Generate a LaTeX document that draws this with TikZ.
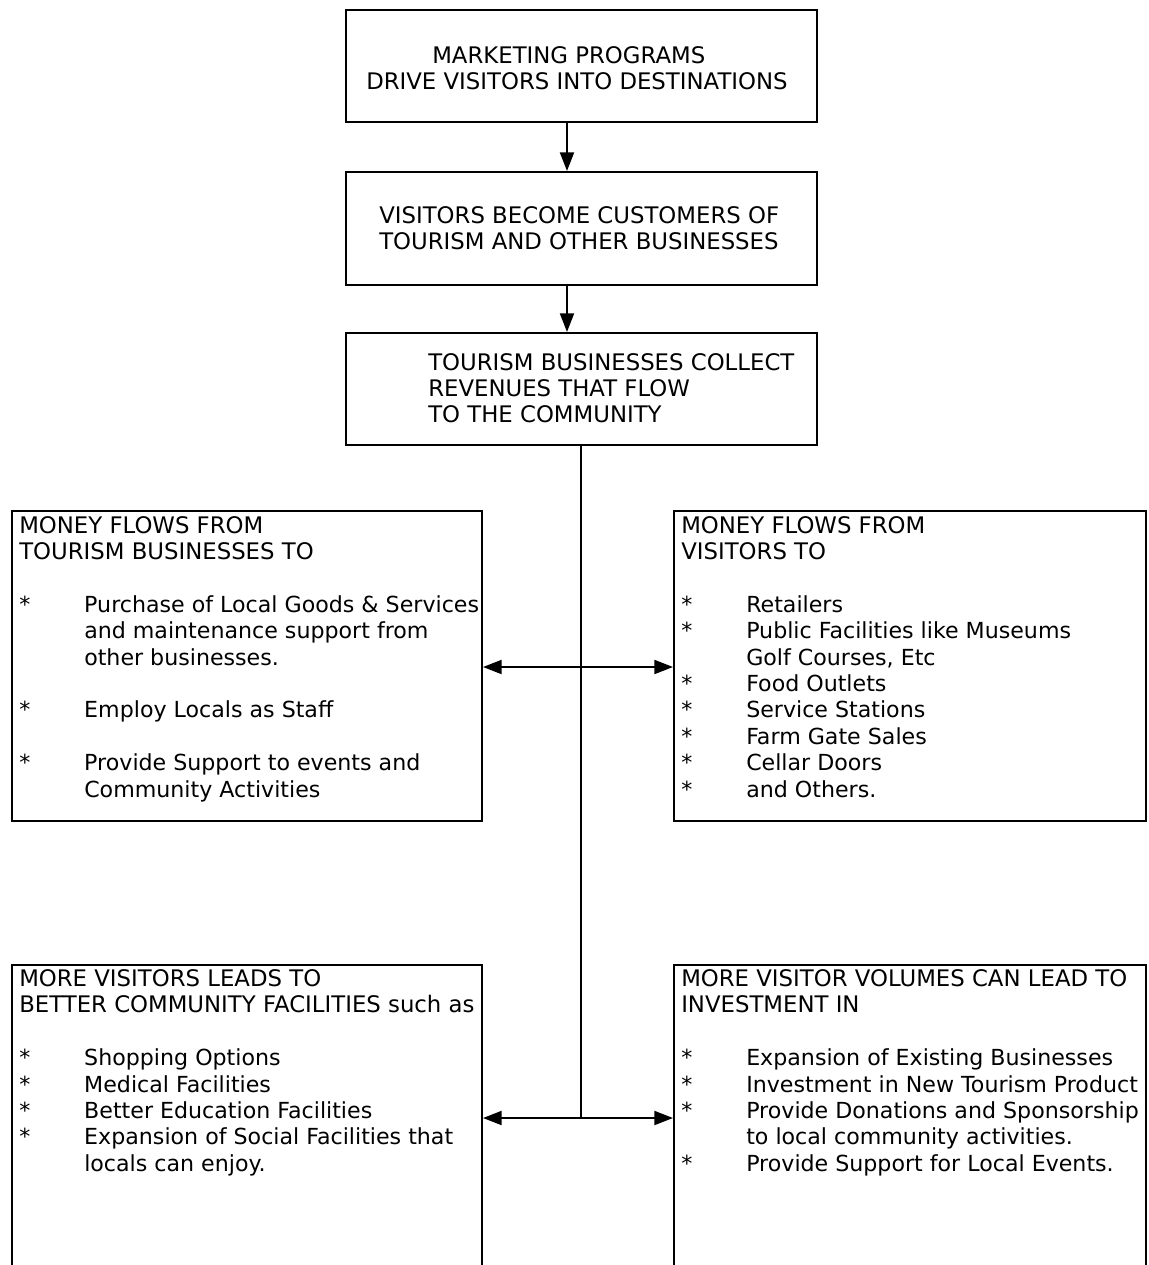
\documentclass[tikz,border=0pt]{standalone}
\usepackage{fontspec}
\setmainfont{DejaVu Sans}
\usetikzlibrary{arrows.meta}
\newcommand\hdfont{\fontsize{17.1}{19.8}\selectfont}
\newcommand\hd[1]{\multicolumn{2}{@{}l@{}}{\hdfont #1}}
\begin{document}
\begin{tikzpicture}[x=0.75pt,y=-0.75pt,
  box/.style={draw,line width=1.5pt,inner sep=0pt,minimum width=#1},
  txt/.style={inner sep=0pt,anchor=base west,font=\fontsize{16.6}{19.8}\selectfont},
  htxt/.style={inner sep=0pt,anchor=base west,font=\hdfont},
  arr/.style={line width=1.5pt,-{Triangle[length=14pt,width=10.5pt]}},
  ln/.style={line width=1.5pt}]
\useasboundingbox (0,0) rectangle (1149,1265);
% boxes
\node[box=353.25pt,minimum height=84pt] (b1) at (581.5,66) {};
\node[box=353.25pt,minimum height=84.75pt] (b2) at (581.5,228.5) {};
\node[box=353.25pt,minimum height=84pt] (b3) at (581.5,389) {};
\node[box=352.5pt,minimum height=232.5pt] (b4) at (247,666) {};
\node[box=354pt,minimum height=232.5pt] (b5) at (910,666) {};
\node[box=352.5pt,minimum height=326.25pt] (b6) at (247,1182.5) {};
\node[box=354pt,minimum height=326.25pt] (b7) at (910,1182.5) {};
% texts
\node[htxt] (t1a) at (432,63) {MARKETING PROGRAMS};
\node[htxt] (t1b) at (366,89) {DRIVE VISITORS INTO DESTINATIONS};
\node[htxt] (t2) at (379,223) {\begin{tabular}[t]{@{}l@{}}VISITORS BECOME CUSTOMERS OF\\TOURISM AND OTHER BUSINESSES\end{tabular}};
\node[htxt] (t3) at (428,370) {\begin{tabular}[t]{@{}l@{}}TOURISM BUSINESSES COLLECT\\REVENUES THAT FLOW\\TO THE COMMUNITY\end{tabular}};
\node[txt] (t4) at (19,533) {\begin{tabular}[t]{@{}p{48.75pt}@{}l@{}}
\hd{MONEY FLOWS FROM}\\
\hd{TOURISM BUSINESSES TO}\\
 & \\
{*} & Purchase of Local Goods \& Services\\
 & and maintenance support from\\
 & other businesses.\\
 & \\
{*} & Employ Locals as Staff\\
 & \\
{*} & Provide Support to events and\\
 & Community Activities
\end{tabular}};
\node[txt] (t5) at (681,533) {\begin{tabular}[t]{@{}p{48.75pt}@{}l@{}}
\hd{MONEY FLOWS FROM}\\
\hd{VISITORS TO}\\
 & \\
{*} & Retailers\\
{*} & Public Facilities like Museums\\
 & Golf Courses, Etc\\
{*} & Food Outlets\\
{*} & Service Stations\\
{*} & Farm Gate Sales\\
{*} & Cellar Doors\\
{*} & and Others.
\end{tabular}};
\node[txt] (t6) at (19,986.5) {\begin{tabular}[t]{@{}p{48.75pt}@{}l@{}}
\hd{MORE VISITORS LEADS TO}\\
\hd{BETTER COMMUNITY FACILITIES such as}\\
 & \\
{*} & Shopping Options\\
{*} & Medical Facilities\\
{*} & Better Education Facilities\\
{*} & Expansion of Social Facilities that\\
 & locals can enjoy.
\end{tabular}};
\node[txt] (t7) at (681,986.5) {\begin{tabular}[t]{@{}p{48.75pt}@{}l@{}}
\hd{MORE VISITOR VOLUMES CAN LEAD TO}\\
\hd{INVESTMENT IN}\\
 & \\
{*} & Expansion of Existing Businesses\\
{*} & Investment in New Tourism Product\\
{*} & Provide Donations and Sponsorship\\
 & to local community activities.\\
{*} & Provide Support for Local Events.
\end{tabular}};
% connectors
\coordinate (ax) at (567,0);
\coordinate (j1) at (581,667);
\coordinate (j2) at (581,1118);
\draw[arr] (b1.south -| ax) -- (b2.north -| ax);
\draw[arr] (b2.south -| ax) -- (b3.north -| ax);
\draw[ln] (b3.south -| j1) -- (j2);
\draw[arr] (j1) -- (b4.east |- j1);
\draw[arr] (j1) -- (b5.west |- j1);
\draw[arr] (j2) -- (b6.east |- j2);
\draw[arr] (j2) -- (b7.west |- j2);
\end{tikzpicture}
\end{document}
